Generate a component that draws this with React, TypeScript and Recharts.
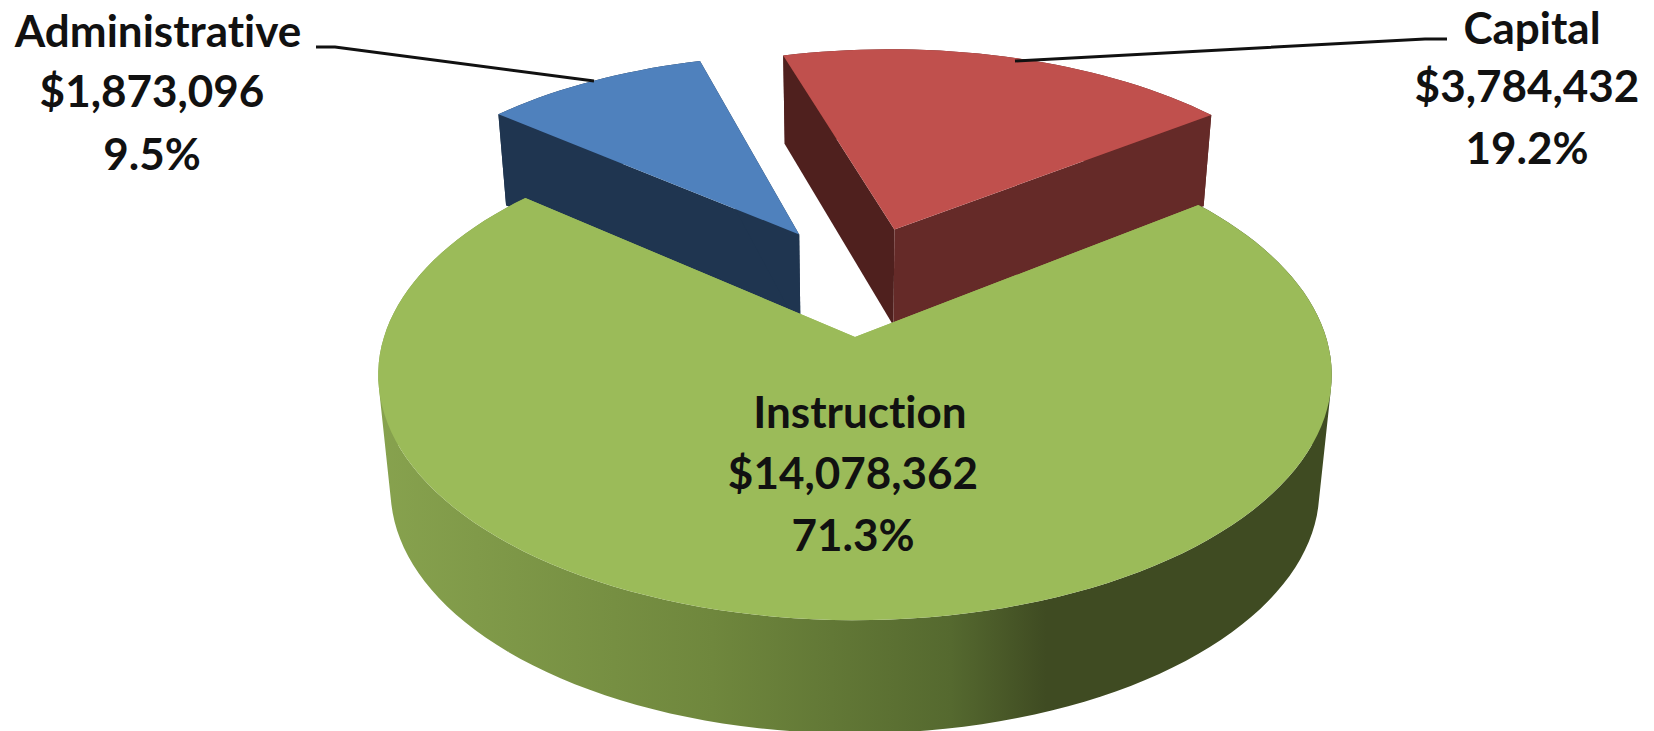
import { PieChart, Pie } from "recharts";

const categories = ["Administrative", "Capital", "Instruction"];
const amounts = [1873096, 3784432, 14078362];
const tableData = categories.map((name, i) => ({ name, value: amounts[i] }));

// look of each slice: offset is how far it is pulled out of the pie, in radius units
const SLICES: Record<string, any> = {
    Administrative: { top: "#4f81bd", left: "#1f3550", right: "#1f3550", wall: "#1f3550", ox: -0.127, oy: 0.459, r: 0.985, d: 0.219, c: 0 },
    Capital: { top: "#c0504d", left: "#4f201e", right: "#652a28", wall: "#652a28", ox: 0.09, oy: 0.483, r: 0.995, d: 0.219, c: 0 },
    Instruction: { top: "#9bbb59", left: "#9bbb59", right: "#9bbb59", wall: "url(#greenWall)", ox: 0, oy: 0, r: 1, d: 0.253, c: 0.11 },
};

const LABELS: Record<string, any> = {
    Administrative: { xs: [158, 152, 152], ys: [30, 90, 153], line: "M316 47 L335 47 L594 81" },
    Capital: { xs: [1532, 1527, 1527], ys: [27, 85, 147], line: "M1447 39 L1425 39 L1015 61" },
    Instruction: { xs: [860, 853, 853], ys: [411, 472, 534] },
};

const TILT = 0.508;
const PERSPECTIVE = 0.155;
const SHRINK = 0.026;

// tilted pie: u, v in radius units, h = 0 on the top face, 1 on the bottom face
const project = (cx: number, cy: number, R: number, u: number, v: number, h: number, s: any) => {
    const w = 1 + PERSPECTIVE * v + SHRINK * h;
    return [cx + (R * u) / w, cy + (R * (-TILT * v + s.d * (1 + s.c * v) * h)) / w];
};

const toPath = (pts: number[][]) => "M" + pts.map((p) => p[0].toFixed(1) + " " + p[1].toFixed(1)).join(" L") + " Z";

const area = (q: number[][]) =>
    q.reduce((sum, p, i) => {
        const n = q[(i + 1) % q.length];
        return sum + p[0] * n[1] - n[0] * p[1];
    }, 0);

const PieSlice = (props: any) => {
    const { cx, cy, outerRadius, startAngle, endAngle, name } = props;
    const s = SLICES[name];
    const arc = (h: number) => {
        const pts: number[][] = [];
        const n = Math.ceil(Math.abs(endAngle - startAngle) / 2);
        for (let i = 0; i <= n; i++) {
            const a = ((startAngle + ((endAngle - startAngle) * i) / n) * Math.PI) / 180;
            pts.push(project(cx, cy, outerRadius, s.ox + s.r * Math.cos(a), s.oy + s.r * Math.sin(a), h, s));
        }
        return pts;
    };
    const top = arc(0);
    const bottom = arc(1);
    const apexTop = project(cx, cy, outerRadius, s.ox, s.oy, 0, s);
    const apexBottom = project(cx, cy, outerRadius, s.ox, s.oy, 1, s);
    // wall as one strip of same-wound quads so the silhouette stays filled
    const wall = top
        .slice(1)
        .map((p, i) => {
            const q = [top[i], p, bottom[i + 1], bottom[i]];
            return toPath(area(q) < 0 ? q.reverse() : q);
        })
        .join(" ");
    const startFace = [apexTop, top[0], bottom[0], apexBottom];
    const endFace = [apexTop, top[top.length - 1], bottom[bottom.length - 1], apexBottom];
    return (
        <g>
            <linearGradient id="greenWall" gradientUnits="userSpaceOnUse" x1={379} x2={1332} y1={0} y2={0}>
                <stop offset="0%" stopColor="#87a24e" />
                <stop offset="35%" stopColor="#6f873d" />
                <stop offset="60%" stopColor="#55692f" />
                <stop offset="70%" stopColor="#3f4b22" />
                <stop offset="100%" stopColor="#3f4b22" />
            </linearGradient>
            <path d={wall} fill={s.wall} />
            <path d={toPath(startFace)} fill={s.left} />
            <path d={toPath(endFace)} fill={s.right} />
            <path d={toPath([apexTop, ...top])} fill={s.top} />
        </g>
    );
};

const renderLabel = (props: any) => {
    const { name, value, percent } = props;
    const l = LABELS[name];
    const lines = [name, "$" + value.toLocaleString("en-US"), (percent * 100).toFixed(1) + "%"];
    return (
        <g>
            {l.line && <path d={l.line} fill="none" stroke="#111" strokeWidth={3} />}
            {lines.map((t, i) => (
                <text
                    key={t}
                    x={l.xs[i]}
                    y={l.ys[i]}
                    textAnchor="middle"
                    dominantBaseline="central"
                    fontFamily="Lato"
                    fontWeight={700}
                    fontSize={44}
                    fill="#111"
                    style={{ fontVariantLigatures: "none" }}
                >
                    {t}
                </text>
            ))}
        </g>
    );
};

export default function App() {
    return (
        <div style={{ position: "absolute", left: 0, top: 0, width: 1654, height: 731, background: "#fff", overflow: "hidden" }}>
            <PieChart width={1654} height={731} margin={{ top: 0, right: 0, bottom: 0, left: 0 }}>
                <Pie
                    data={tableData}
                    dataKey="value"
                    nameKey="name"
                    cx={855}
                    cy={337}
                    innerRadius={0}
                    outerRadius={471}
                    startAngle={140.3}
                    endAngle={-219.7}
                    stroke="none"
                    shape={PieSlice}
                    label={renderLabel}
                    labelLine={false}
                    isAnimationActive={false}
                />
            </PieChart>
        </div>
    );
}
